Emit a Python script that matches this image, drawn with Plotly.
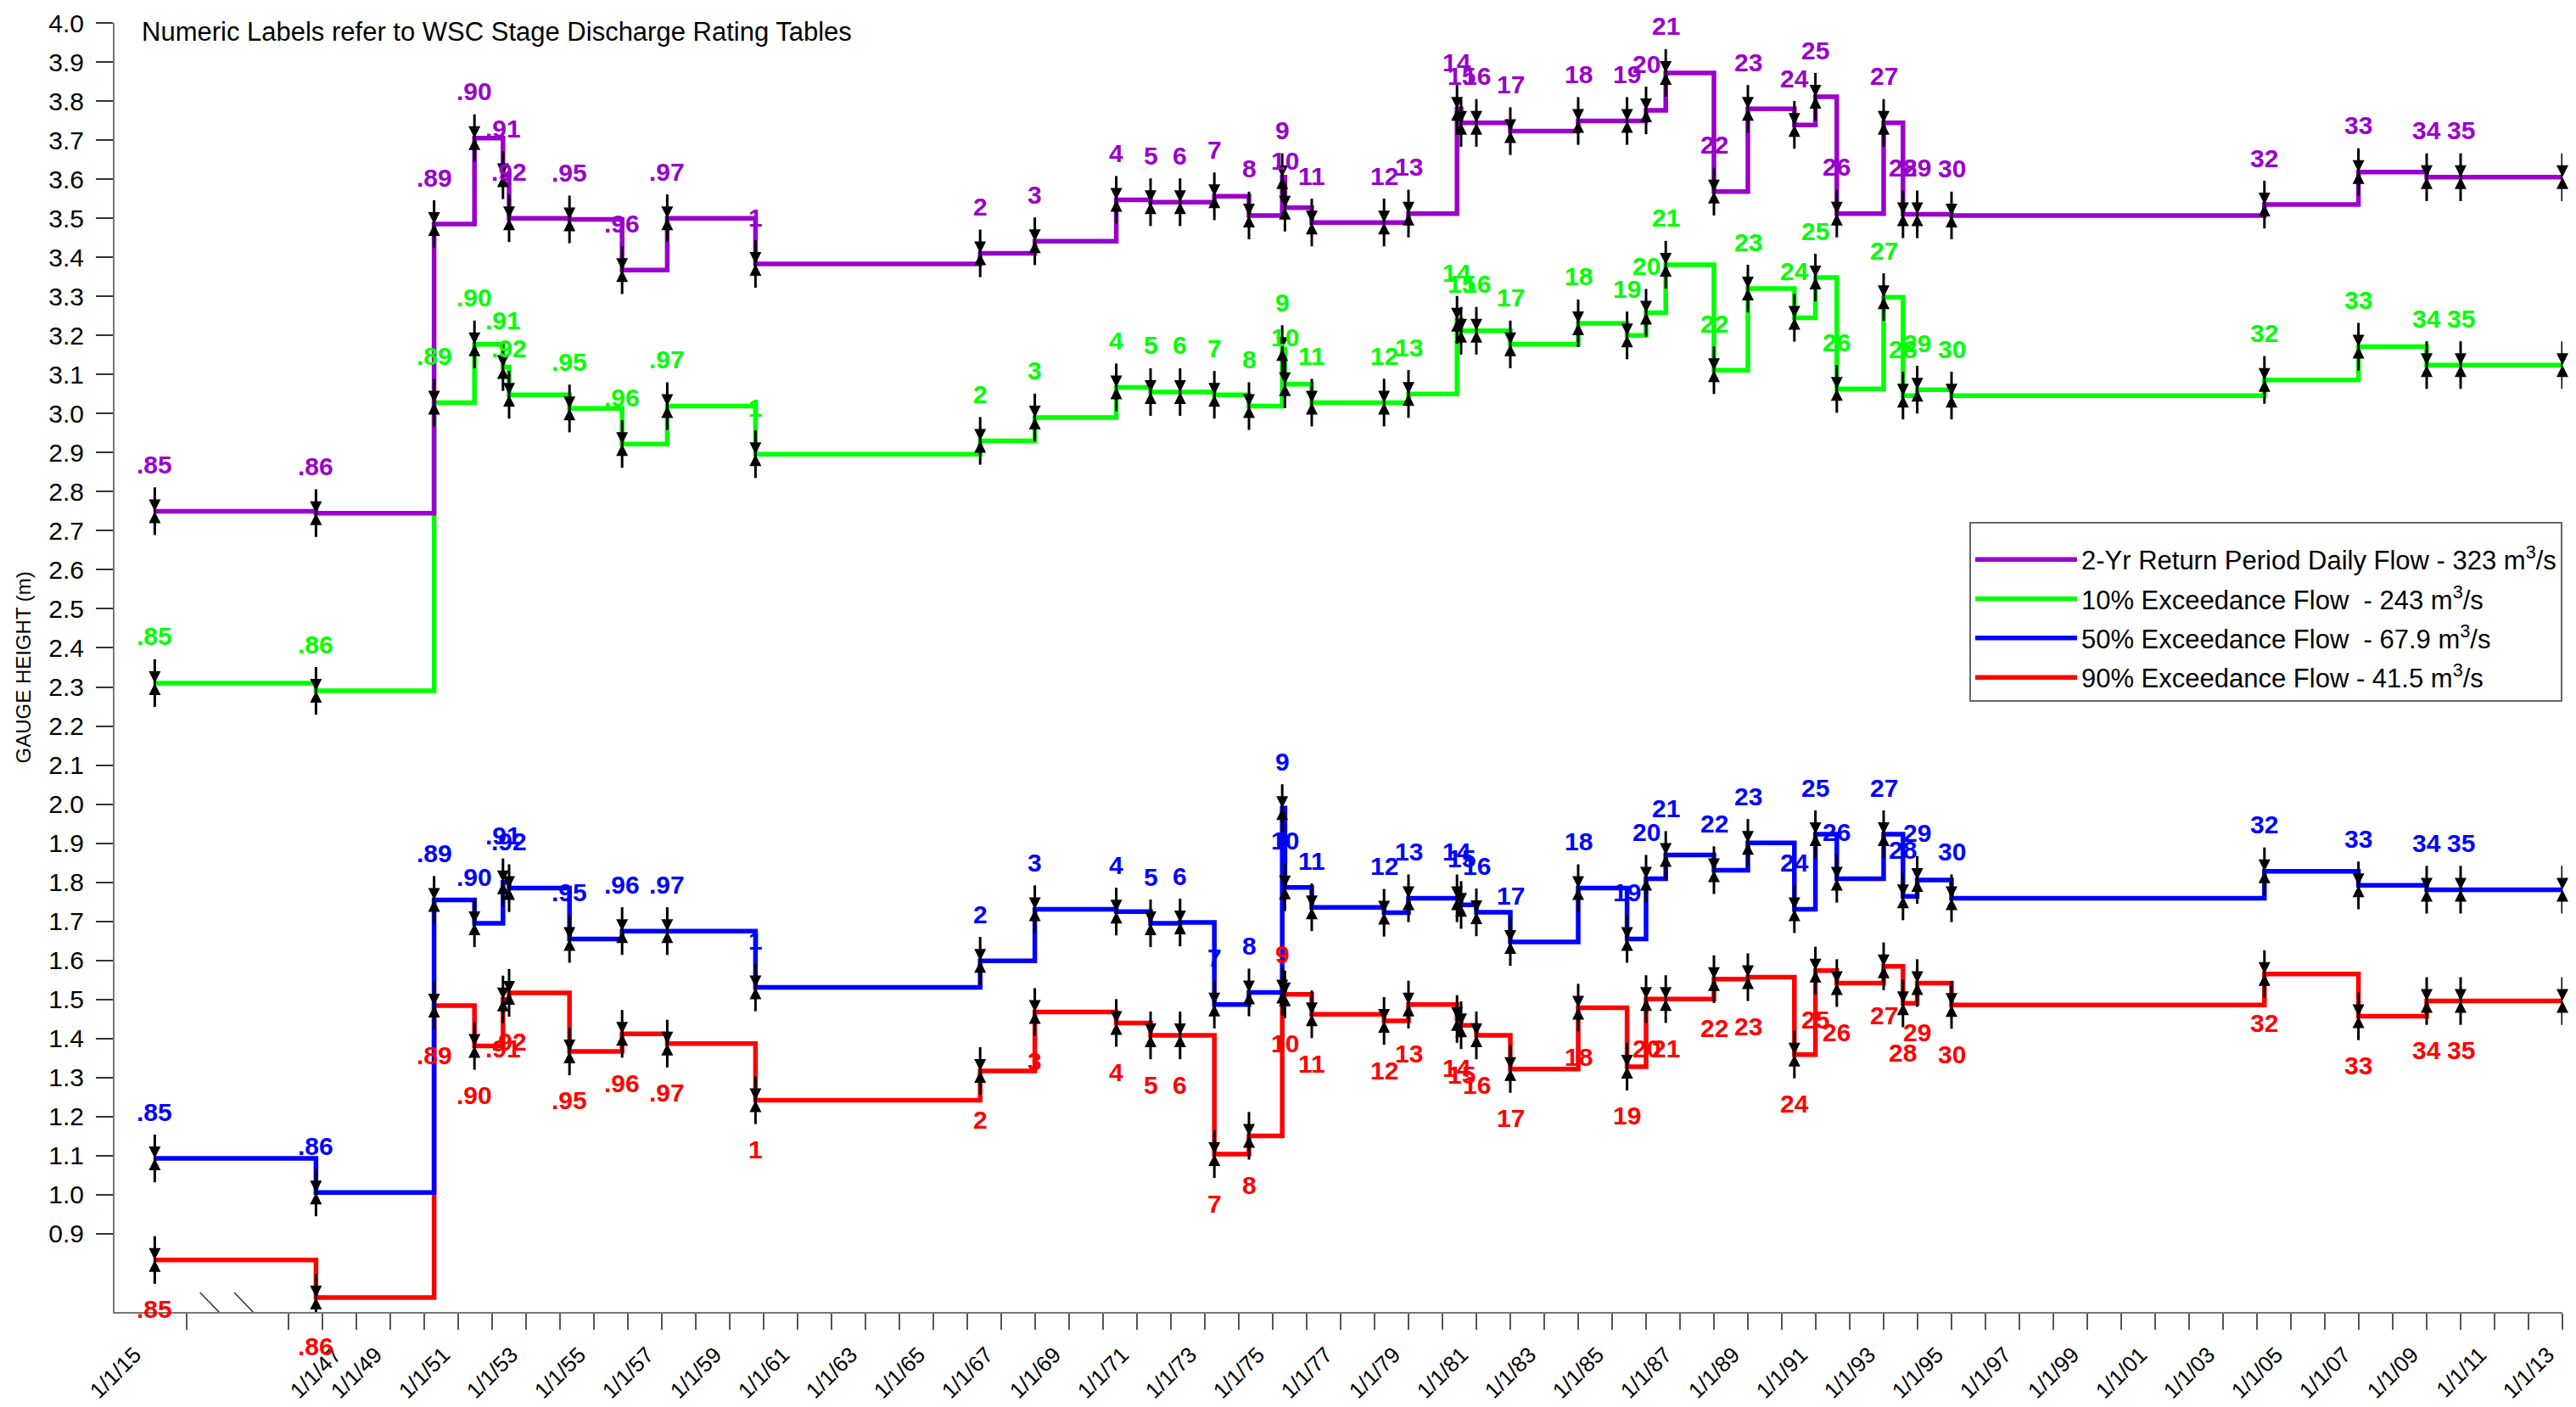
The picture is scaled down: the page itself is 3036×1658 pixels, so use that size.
import plotly.graph_objects as go

# ---------------- data ----------------
point_labels = [".85", ".86", ".89", ".90", ".91", ".92", ".95", ".96", ".97", "1",
                "2", "3", "4", "5", "6", "7", "8", "9", "10", "11",
                "12", "13", "14", "15", "16", "17", "18", "19", "20", "21",
                "22", "23", "24", "25", "26", "27", "28", "29", "30",
                "32", "33", "34", "35", ""]

# position of each rating table on the (broken) time axis, in years
x_pos = [1942.06, 1946.81, 1950.29, 1951.48, 1952.32, 1952.50, 1954.28, 1955.83, 1957.16, 1959.76,
         1966.38, 1967.99, 1970.39, 1971.40, 1972.27, 1973.28, 1974.30, 1975.28, 1975.36, 1976.15,
         1978.28, 1979.00, 1980.43, 1980.55, 1981.00, 1982.00, 1984.00, 1985.44, 1986.00, 1986.58,
         1988.00, 1989.00, 1990.37, 1990.99, 1991.62, 1993.00, 1993.57, 1993.99, 1995.00,
         2004.22, 2006.99, 2009.00, 2010.00, 2013.00]

flow_2yr = [2.750, 2.745, 3.485, 3.705, 3.610, 3.500, 3.497, 3.367, 3.500, 3.383,
            3.410, 3.441, 3.547, 3.541, 3.541, 3.556, 3.507, 3.605, 3.527, 3.489,
            3.489, 3.512, 3.780, 3.744, 3.744, 3.723, 3.749, 3.749, 3.776, 3.872,
            3.568, 3.780, 3.739, 3.811, 3.512, 3.744, 3.510, 3.510, 3.507,
            3.535, 3.618, 3.605, 3.605, 3.605]

flow_10 = [2.310, 2.290, 3.028, 3.177, 3.119, 3.048, 3.013, 2.922, 3.019, 2.896,
           2.930, 2.990, 3.067, 3.055, 3.055, 3.048, 3.019, 3.165, 3.075, 3.028,
           3.028, 3.050, 3.240, 3.212, 3.212, 3.177, 3.231, 3.200, 3.258, 3.381,
           3.111, 3.320, 3.245, 3.348, 3.063, 3.298, 3.046, 3.061, 3.046,
           3.086, 3.171, 3.124, 3.124, 3.124]

flow_50 = [1.093, 1.006, 1.755, 1.695, 1.800, 1.785, 1.655, 1.675, 1.675, 1.531,
           1.599, 1.731, 1.725, 1.695, 1.697, 1.487, 1.518, 1.990, 1.787, 1.736,
           1.722, 1.759, 1.759, 1.742, 1.723, 1.647, 1.785, 1.655, 1.809, 1.870,
           1.831, 1.901, 1.731, 1.923, 1.809, 1.923, 1.764, 1.806, 1.759,
           1.828, 1.792, 1.781, 1.781, 1.781]

flow_90 = [0.833, 0.737, 1.484, 1.381, 1.500, 1.517, 1.367, 1.412, 1.387, 1.242,
           1.317, 1.468, 1.440, 1.408, 1.408, 1.104, 1.151, 1.520, 1.513, 1.462,
           1.445, 1.487, 1.450, 1.434, 1.408, 1.322, 1.479, 1.328, 1.501, 1.501,
           1.552, 1.557, 1.359, 1.574, 1.542, 1.585, 1.490, 1.542, 1.486,
           1.565, 1.457, 1.496, 1.496, 1.496]

series_names = ["2-Yr Return Period Daily Flow - 323 m<sup>3</sup>/s",
                "10% Exceedance Flow  - 243 m<sup>3</sup>/s",
                "50% Exceedance Flow  - 67.9 m<sup>3</sup>/s",
                "90% Exceedance Flow - 41.5 m<sup>3</sup>/s"]

tick_marks = [1943] + list(range(1946, 2014))
tick_label_years = [1915, 1947] + list(range(1949, 2014, 2))
tick_label_text = ["1/1/%02d" % (y % 100) for y in tick_label_years]
y_ticks = [round(0.9 + 0.1 * i, 1) for i in range(32)]

# ---------------- style / layout ----------------
FONT = "Liberation Sans, Arial, sans-serif"
colors = ["#9900CC", "#00FF00", "#0000FF", "#FF0000"]
label_shift = [55, 55, 55, -58]       # pixel offset of numeric labels
label_shift_override = {(3, "9"): 44}
X_RANGE = [1940.875, 2013.0]
Y_RANGE = [0.7, 4.0]
# where each tick label sits on the broken axis (label end slightly left of its tick)
label_anchor = {1915: 1941.47, 1947: 1947.37}
tick_label_pos = [label_anchor.get(y, y - 0.43) for y in tick_label_years]

values = [flow_2yr, flow_10, flow_50, flow_90]

fig = go.Figure()

# step lines: red, blue, green, purple (purple on top)
for k in [3, 2, 1, 0]:
    fig.add_trace(go.Scatter(
        x=x_pos, y=values[k], mode="lines", name=series_names[k],
        line=dict(color=colors[k], width=5.5, shape="hv"),
        legendrank=k + 1, legendgroup="g%d" % k, hoverinfo="skip"))

# arrow markers with vertical black bars
for k in [3, 2, 1, 0]:
    fig.add_trace(go.Scatter(
        x=x_pos, y=values[k], mode="markers", showlegend=False, cliponaxis=False,
        marker=dict(symbol="arrow-down", size=14, color="black"),
        error_y=dict(type="constant", value=0.061, color="black", thickness=3, width=0),
        hoverinfo="skip"))
    fig.add_trace(go.Scatter(
        x=x_pos, y=values[k], mode="markers", showlegend=False, cliponaxis=False,
        marker=dict(symbol="arrow-up", size=14, color="black"),
        hoverinfo="skip"))

# dummy trace for the label axis
fig.add_trace(go.Scatter(x=tick_label_pos, y=[None] * len(tick_label_pos), xaxis="x2",
                         mode="markers", showlegend=False, hoverinfo="skip"))

annotations = []
for k in range(4):
    for xv, yv, lab in zip(x_pos, values[k], point_labels):
        if not lab:
            continue
        annotations.append(dict(
            x=xv, y=yv, xref="x", yref="y", text="<b>%s</b>" % lab, showarrow=False,
            yshift=label_shift_override.get((k, lab), label_shift[k]),
            xanchor="center", yanchor="middle",
            font=dict(family=FONT, size=30, color=colors[k])))

annotations.append(dict(
    x=0.0104, y=0.9928, xref="paper", yref="paper", xanchor="left", yanchor="middle",
    text="Numeric Labels refer to WSC Stage Discharge Rating Tables", showarrow=False,
    font=dict(family=FONT, size=31, color="black")))
annotations.append(dict(
    x=-0.0371, y=0.5, xref="paper", yref="paper", xanchor="center", yanchor="middle",
    text="GAUGE HEIGHT (m)", textangle=-90, showarrow=False,
    font=dict(family=FONT, size=24, color="black")))

# axis-break slashes
break_marks = [(1943.39, 0.75, 1944.60, 0.642), (1944.40, 0.75, 1945.60, 0.642)]
shapes = [dict(type="line", xref="x", yref="y", x0=a, y0=b, x1=c, y1=d,
               line=dict(color="#333", width=1.5)) for a, b, c, d in break_marks]

fig.update_layout(
    width=3036, height=1658,
    margin=dict(l=135, r=16, t=27, b=112, autoexpand=False),
    paper_bgcolor="white", plot_bgcolor="white",
    font=dict(family=FONT, color="black"),
    xaxis=dict(range=X_RANGE, tickmode="array", tickvals=tick_marks, showticklabels=False,
               ticks="outside", ticklen=19, tickwidth=2, tickcolor="#555",
               showline=True, linecolor="#777", linewidth=2, showgrid=False, zeroline=False),
    xaxis2=dict(range=X_RANGE, overlaying="x", anchor="y", side="bottom",
                tickmode="array", tickvals=tick_label_pos, ticktext=tick_label_text,
                tickangle=-45, ticks="outside", ticklen=24, tickcolor="rgba(0,0,0,0)",
                tickfont=dict(family=FONT, size=26, color="black"),
                showline=False, showgrid=False, zeroline=False),
    yaxis=dict(range=Y_RANGE, tickmode="array", tickvals=y_ticks,
               ticktext=["%.1f" % v for v in y_ticks],
               ticks="outside", ticklen=20, tickwidth=2, tickcolor="#333",
               ticklabelstandoff=8,
               tickfont=dict(family=FONT, size=30, color="black"),
               showline=True, linecolor="#777", linewidth=2, showgrid=False, zeroline=False),
    legend=dict(x=0.7577, y=0.6129, xanchor="left", yanchor="top",
                bgcolor="white", bordercolor="#666", borderwidth=2,
                traceorder="grouped", tracegroupgap=3,
                title=dict(text=" ", font=dict(size=12)),
                font=dict(family=FONT, size=31, color="black"), itemwidth=120),
    annotations=annotations, shapes=shapes,
)

fig.write_html("out.html", config={"displayModeBar": False},
               post_script="document.body.style.margin='0';")
